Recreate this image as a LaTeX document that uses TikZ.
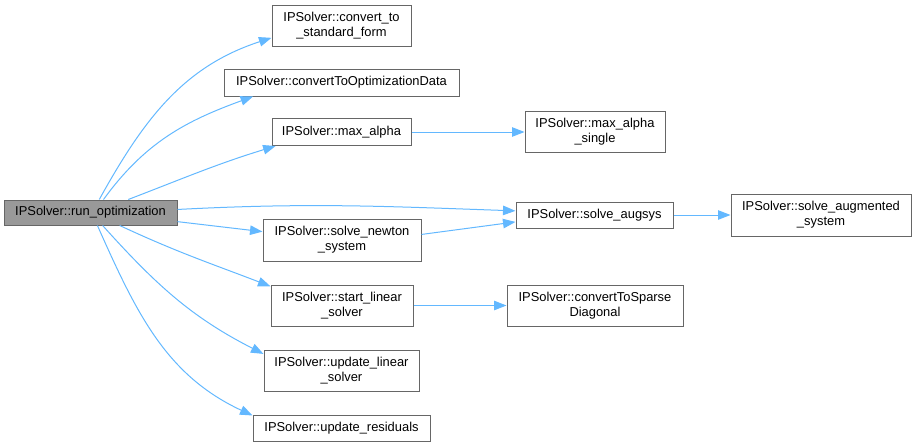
\documentclass[tikz,border=0pt]{standalone}
\usepackage{fontspec}
\setmainfont{Liberation Sans}
\usepackage{xcolor}
\usepackage{tikz}
\usetikzlibrary{arrows.meta}

\definecolor{edgeblue}{HTML}{63B8FF}
\definecolor{boxgray}{HTML}{666666}
\definecolor{rootgray}{HTML}{999999}

\begin{document}
\begin{tikzpicture}[x=1pt,y=1pt,line width=1pt,
    fn/.style={draw=boxgray, fill=white, align=center, inner sep=0pt,
      font=\fontsize{12.9}{15}\selectfont},
    call/.style={draw=edgeblue, -{Triangle[length=12.5pt,width=9.5pt]}}]
  \useasboundingbox (0,0) rectangle (916,-447);
  % caller
  \node[fn, fill=rootgray, minimum width=173, minimum height=25] (run) at (90.5,-212.5) {IPSolver::run\_optimization};
  % callees, first level
  \node[fn, minimum width=139, minimum height=41] (stdform) at (341.5,-25.5) {IPSolver::convert\_to\\\_standard\_form};
  \node[fn, minimum width=235, minimum height=27] (optdata) at (341.5,-82.5) {IPSolver::convertToOptimizationData};
  \node[fn, minimum width=139, minimum height=27] (maxalpha) at (341.5,-132) {IPSolver::max\_alpha};
  \node[fn, minimum width=158, minimum height=42] (newton) at (342,-240) {IPSolver::solve\_newton\\\_system};
  \node[fn, minimum width=142, minimum height=41] (startls) at (342,-305.5) {IPSolver::start\_linear\\\_solver};
  \node[fn, minimum width=155, minimum height=41] (updls) at (341.5,-370.5) {IPSolver::update\_linear\\\_solver};
  \node[fn, minimum width=177, minimum height=26] (resid) at (341.5,-428) {IPSolver::update\_residuals};
  % callees, second and third level
  \node[fn, minimum width=140, minimum height=41] (maxsingle) at (595,-132) {IPSolver::max\_alpha\\\_single};
  \node[fn, minimum width=157, minimum height=26] (augsys) at (594.5,-215) {IPSolver::solve\_augsys};
  \node[fn, minimum width=176, minimum height=41] (sparse) at (595,-305.5) {IPSolver::convertToSparse\\Diagonal};
  \node[fn, minimum width=180, minimum height=42] (augmented) at (821,-215) {IPSolver::solve\_augmented\\\_system};

  \draw[call] (run.56) to[out=61,in=198] (stdform.190);
  \draw[call] (run.45) to[out=54,in=200] (optdata.189);
  \draw[call] (run.19) to[out=21,in=197] (maxalpha.192);
  \draw[call] (run.2) to[out=3,in=178] (augsys.177);
  \draw[call] (run.-6) -- (newton.174);
  \draw[call] (run.-24) to[out=-25,in=159] (startls.165);
  \draw[call] (run.-47) to[out=-48,in=153] (updls.168);
  \draw[call] (run.-62) to[out=-66,in=155] (resid.172);
  \draw[call] (maxalpha) -- (maxsingle);
  \draw[call] (newton.4) -- (augsys.185);
  \draw[call] (augsys) -- (augmented);
  \draw[call] (startls) -- (sparse);
\end{tikzpicture}
\end{document}
